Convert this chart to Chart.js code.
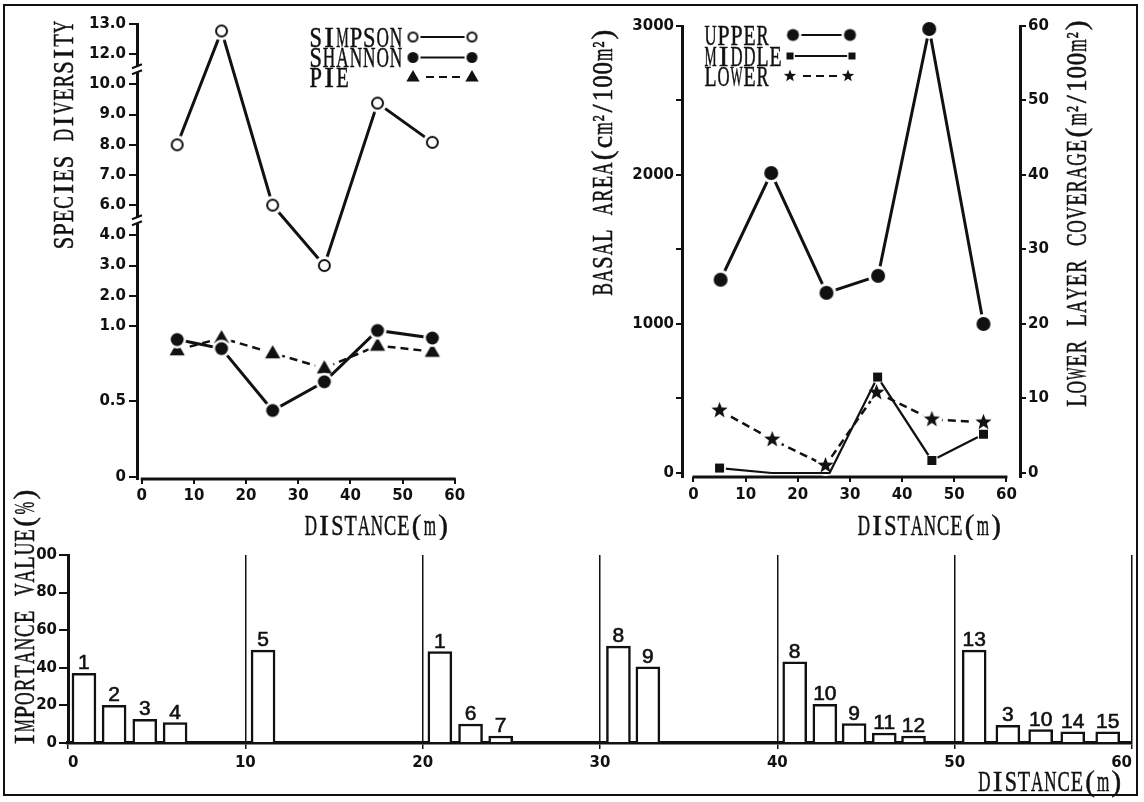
<!DOCTYPE html>
<html>
<head>
<meta charset="utf-8">
<script src="https://cdn.jsdelivr.net/npm/chart.js@4.4.1/dist/chart.umd.min.js"></script>
<style>
  html, body { margin: 0; padding: 0; background: #fff; }
  #page { position: relative; width: 1144px; height: 802px; overflow: hidden; background: #fff; }
  #frame { position: absolute; left: 3px; top: 4px; width: 1135px; height: 792px; border: 2px solid #111; box-sizing: border-box; }
  canvas { position: absolute; display: block; }
</style>
</head>
<body>
<div id="page">
  <div id="frame"></div>
  <canvas id="cDiv" width="520" height="540" style="left:0px;top:0px"></canvas>
  <canvas id="cBasal" width="584" height="540" style="left:560px;top:0px"></canvas>
  <canvas id="cIV" width="1144" height="322" style="left:0px;top:480px"></canvas>
</div>
<script>
// ================= DATA =================
const distanceTicks = [0, 10, 20, 30, 40, 50, 60];

// Species diversity (top-left)
const diversityDistance = [6.8, 15.3, 25.1, 35.0, 45.2, 55.7];
const simpsonIndex = [8.0, 12.77, 6.0, 3.0, 9.38, 8.08];
const shannonIndex = [0.91, 0.85, 0.44, 0.63, 0.97, 0.92];
const pieIndex = [0.84, 0.92, 0.82, 0.72, 0.87, 0.83];
const diversityTicks = [0, 0.5, 1, 2, 3, 4, 6, 7, 8, 9, 10, 12, 13];
const diversityTickLabels = ['0', '0.5', '1.0', '2.0', '3.0', '4.0', '6.0', '7.0', '8.0', '9.0', '10.0', '12.0', '13.0'];

// Basal area / coverage (top-right)
const upperDistance = [5.2, 14.9, 25.5, 35.4, 45.2, 55.6];
const upperBasalArea = [1297, 2013, 1209, 1323, 2980, 1000];
const middleDistance = [5.0, 15.0, 26.1, 35.3, 45.7, 55.6];
const middleBasalArea = [33, 0, 0, 644, 84, 260];
const lowerDistance = [5.0, 15.1, 25.3, 35.1, 45.7, 55.6];
const lowerCoverage = [8.4, 4.5, 1.0, 10.8, 7.2, 6.8];
const basalTicks = [0, 500, 1000, 1500, 2000, 2500, 3000];
const basalTickLabels = ['0', '', '1000', '', '2000', '', '3000'];
const coverageTicks = [0, 10, 20, 30, 40, 50, 60];
const coverageTickLabels = ['0', '10', '20', '30', '40', '50', '60'];

// Importance value (bottom)
const ivDistance = [0.9, 2.6, 4.33, 6.04, 11.0, 20.97, 22.7, 24.4, 31.04, 32.7, 40.98, 42.68, 44.33, 46.03, 47.68, 51.1, 53.0, 54.85, 56.66, 58.63];
const ivValue = [37, 20, 12.6, 10.8, 49.4, 48.6, 10.1, 3.7, 51.5, 40.5, 43.2, 20.6, 10.3, 5.3, 3.7, 49.4, 9.4, 7.1, 5.9, 5.9];
const ivSpecies = ['1', '2', '3', '4', '5', '1', '6', '7', '8', '9', '8', '10', '9', '11', '12', '13', '3', '10', '14', '15'];
const ivTicks = [0, 20, 40, 60, 80, 100];
const ivTickLabels = ['0', '20', '40', '60', '80', '00'];

// ================= HELPERS =================
const INK = '#111';
const SERIF = "'Liberation Serif', 'DejaVu Serif', serif";
const TICKFONT = { family: "'DejaVu Sans', sans-serif", size: 15, weight: 'bold' };

// broken diversity axis: 0-1 stretched, then one step per tick
function divPos(v) {
  if (v <= 1) return v * 5;
  if (v <= 4) return 5 + (v - 1);
  if (v <= 10) return 9 + (v - 6);
  return 14 + (v - 12);
}

// monospaced typewriter-like text
function monoText(ctx, text, x, y, opt) {
  const cell = opt.cell || 13.4;
  const size = opt.size || 29;
  const chars = Array.from(text);
  const widths = chars.map(ch => (ch === '\u00B2' ? cell * 0.5 : cell));
  const total = widths.reduce((a, b) => a + b, 0);
  ctx.save();
  ctx.translate(x, y);
  if (opt.rot) ctx.rotate(opt.rot);
  ctx.font = size + 'px ' + SERIF;
  ctx.fillStyle = INK;
  ctx.strokeStyle = INK;
  ctx.lineWidth = 0.5;
  ctx.textAlign = 'center';
  ctx.textBaseline = 'alphabetic';
  const capH = size * 0.662;
  let cx = opt.align === 'center' ? -total / 2 : (opt.align === 'right' ? -total : 0);
  chars.forEach((ch, i) => {
    const w = widths[i];
    if (ch !== ' ') {
      const mw = ctx.measureText(ch).width || 1;
      const sx = Math.min(1.0, (w * 0.93) / mw);
      ctx.save();
      ctx.translate(cx + w / 2, capH / 2);
      ctx.scale(sx, 1);
      ctx.fillText(ch, 0, 0);
      ctx.strokeText(ch, 0, 0);
      ctx.restore();
    }
    cx += w;
  });
  ctx.restore();
}

function makeMarker(kind, r, halo) {
  const s = Math.ceil(2 * (r + halo) + 4);
  const c = document.createElement('canvas');
  c.width = s; c.height = s;
  const g = c.getContext('2d');
  const m = s / 2;
  if (halo > 0) {
    g.fillStyle = '#fff';
    g.beginPath(); g.arc(m, m, r + halo, 0, 2 * Math.PI); g.fill();
  }
  g.fillStyle = INK; g.strokeStyle = INK;
  if (kind === 'open') {
    g.lineWidth = 2; g.fillStyle = '#fff';
    g.beginPath(); g.arc(m, m, r - 1, 0, 2 * Math.PI); g.fill(); g.stroke();
  } else if (kind === 'dot') {
    g.beginPath(); g.arc(m, m, r, 0, 2 * Math.PI); g.fill();
  } else if (kind === 'triangle') {
    g.beginPath(); g.moveTo(m, m - r); g.lineTo(m + r * 0.95, m + r * 0.65); g.lineTo(m - r * 0.95, m + r * 0.65); g.closePath(); g.fill();
  } else if (kind === 'square') {
    g.fillRect(m - r, m - r, 2 * r, 2 * r);
  } else if (kind === 'star') {
    g.beginPath();
    for (let k = 0; k < 10; k++) {
      const a = -Math.PI / 2 + k * Math.PI / 5;
      const rr = k % 2 === 0 ? r : r * 0.42;
      g.lineTo(m + rr * Math.cos(a), m + rr * Math.sin(a));
    }
    g.closePath(); g.fill();
  }
  return c;
}

function fixedTicks(values) {
  return scale => { scale.ticks = values.map(v => ({ value: v })); };
}

function titlesPlugin(id, titles) {
  return {
    id,
    afterDraw(chart) {
      const ctx = chart.ctx;
      titles.forEach(t => monoText(ctx, t.text, t.x, t.y, t));
    }
  };
}

function legendPlugin(id, layout) {
  return {
    id,
    afterDraw(chart) {
      const ctx = chart.ctx;
      chart.data.datasets.forEach((ds, i) => {
        const y = layout.ys[i];
        monoText(ctx, ds.label, layout.textX, y, { cell: layout.cell, size: layout.size });
        ctx.save();
        ctx.strokeStyle = INK;
        ctx.lineWidth = layout.lineWidth;
        ctx.setLineDash(ds.borderDash || []);
        ctx.beginPath();
        ctx.moveTo(layout.x1[i], y);
        ctx.lineTo(layout.x2[i], y);
        ctx.stroke();
        ctx.restore();
        const img = ds.legendMarker;
        ctx.drawImage(img, layout.x1[i] - img.width / 2, y - img.height / 2);
        ctx.drawImage(img, layout.x2[i] - img.width / 2, y - img.height / 2);
      });
    }
  };
}

function xAxisLinePlugin(id, from, to) {
  return {
    id,
    beforeDatasetsDraw(chart) {
      const ctx = chart.ctx;
      const xs = chart.scales.x;
      const y = chart.chartArea.bottom;
      ctx.save();
      ctx.strokeStyle = INK;
      ctx.lineWidth = 3;
      ctx.beginPath();
      ctx.moveTo(xs.getPixelForValue(from) - 1, y);
      ctx.lineTo(xs.getPixelForValue(to) + 1, y);
      ctx.stroke();
      ctx.restore();
    }
  };
}

const axisBreaks = {
  id: 'axisBreaks',
  afterDraw(chart) {
    const ctx = chart.ctx;
    const ys = chart.scales.y;
    const x = chart.chartArea.left;
    [divPos(10) + 0.5, divPos(4) + 0.5].forEach(p => {
      const y = ys.getPixelForValue(p);
      ctx.save();
      ctx.fillStyle = '#fff';
      ctx.fillRect(x - 3, y - 3, 6, 6);
      ctx.strokeStyle = INK;
      ctx.lineWidth = 2;
      ctx.beginPath();
      ctx.moveTo(x - 5, y - 1); ctx.lineTo(x + 5, y - 5);
      ctx.moveTo(x - 5, y + 5); ctx.lineTo(x + 5, y + 1);
      ctx.stroke();
      ctx.restore();
    });
  }
};

const baseOpts = {
  responsive: false,
  animation: false,
  devicePixelRatio: 1,
  events: [],
  plugins: { legend: { display: false }, tooltip: { enabled: false } }
};

function tickOpts(extra) {
  return Object.assign({ font: TICKFONT, color: INK, maxRotation: 0, minRotation: 0, autoSkip: false }, extra);
}

// ================= CHART 1: species diversity =================
new Chart(document.getElementById('cDiv'), {
  type: 'line',
  data: {
    datasets: [
      {
        label: 'SIMPSON',
        data: diversityDistance.map((d, i) => ({ x: d, y: divPos(simpsonIndex[i]) })),
        borderColor: INK, borderWidth: 3, tension: 0, clip: false,
        pointStyle: makeMarker('open', 6.5, 3), pointRadius: 6,
        legendMarker: makeMarker('open', 5.5, 2)
      },
      {
        label: 'SHANNON',
        data: diversityDistance.map((d, i) => ({ x: d, y: divPos(shannonIndex[i]) })),
        borderColor: INK, borderWidth: 3, tension: 0, clip: false,
        pointStyle: makeMarker('dot', 6.5, 2.5), pointRadius: 6,
        legendMarker: makeMarker('dot', 5.5, 2)
      },
      {
        label: 'PIE',
        data: diversityDistance.map((d, i) => ({ x: d, y: divPos(pieIndex[i]) })),
        borderColor: INK, borderWidth: 2.5, borderDash: [8, 5], tension: 0, clip: false,
        pointStyle: makeMarker('triangle', 8, 2), pointRadius: 6,
        legendMarker: makeMarker('triangle', 7, 2)
      }
    ]
  },
  options: Object.assign({}, baseOpts, {
    layout: { padding: { top: 24, right: 60, left: 0, bottom: 0 } },
    scales: {
      x: {
        type: 'linear', min: -0.9, max: 61,
        afterBuildTicks: fixedTicks(distanceTicks),
        afterFit: s => { s.height = 61; },
        grid: { drawOnChartArea: false, drawTicks: true, tickLength: 5, color: INK, lineWidth: 2 },
        border: { display: false },
        ticks: tickOpts({ padding: 3 })
      },
      y: {
        type: 'linear', min: -0.07, max: 15,
        afterBuildTicks: s => { s.ticks = diversityTicks.map(v => ({ value: divPos(v) })); },
        afterFit: s => { s.width = 137; },
        grid: { drawOnChartArea: false, drawTicks: true, tickLength: 8, color: INK, lineWidth: 2 },
        border: { display: true, color: INK, width: 3 },
        ticks: tickOpts({ padding: 3, callback: (v, i) => diversityTickLabels[i] })
      }
    }
  }),
  plugins: [
    xAxisLinePlugin('xline1', 0, 60),
    axisBreaks,
    legendPlugin('legend1', { textX: 309, x1: [413, 413, 413], x2: [472, 472, 472], ys: [37, 57.5, 77], cell: 13.4, size: 29, lineWidth: 2.2 }),
    titlesPlugin('titles1', [
      { text: 'SPECIES DIVERSITY', x: 63, y: 135, rot: -Math.PI / 2, align: 'center', cell: 13.5, size: 29 },
      { text: 'DISTANCE(m)', x: 377, y: 525, align: 'center', cell: 13.2, size: 29 }
    ])
  ]
});

// ================= CHART 2: basal area / coverage =================
new Chart(document.getElementById('cBasal'), {
  type: 'line',
  data: {
    datasets: [
      {
        label: 'UPPER',
        data: upperDistance.map((d, i) => ({ x: d, y: upperBasalArea[i] })),
        yAxisID: 'y', borderColor: INK, borderWidth: 3, tension: 0, clip: false,
        pointStyle: makeMarker('dot', 7, 3), pointRadius: 6,
        legendMarker: makeMarker('dot', 6, 2.5)
      },
      {
        label: 'MIDDLE',
        data: middleDistance.map((d, i) => ({ x: d, y: middleBasalArea[i] })),
        yAxisID: 'y', borderColor: INK, borderWidth: 2.2, tension: 0, clip: false,
        pointStyle: makeMarker('square', 4.5, 2),
        pointRadius: ctx => (ctx.raw && ctx.raw.y === 0 ? 0 : 5),
        legendMarker: makeMarker('square', 3.5, 1.5)
      },
      {
        label: 'LOWER',
        data: lowerDistance.map((d, i) => ({ x: d, y: lowerCoverage[i] })),
        yAxisID: 'y1', borderColor: INK, borderWidth: 2.5, borderDash: [8, 5], tension: 0, clip: false,
        pointStyle: makeMarker('star', 8.5, 2), pointRadius: 6,
        legendMarker: makeMarker('star', 6.5, 1.5)
      }
    ]
  },
  options: Object.assign({}, baseOpts, {
    layout: { padding: { top: 26, right: 0, left: 0, bottom: 0 } },
    scales: {
      x: {
        type: 'linear', min: -2.2, max: 62.6,
        afterBuildTicks: fixedTicks(distanceTicks),
        afterFit: s => { s.height = 63; },
        grid: { drawOnChartArea: false, drawTicks: true, tickLength: 5, color: INK, lineWidth: 2 },
        border: { display: false },
        ticks: tickOpts({ padding: 4 })
      },
      y: {
        type: 'linear', position: 'left', min: -27, max: 3000,
        afterBuildTicks: fixedTicks(basalTicks),
        afterFit: s => { s.width = 122; },
        grid: { drawOnChartArea: false, drawTicks: true, tickLength: 6, color: INK, lineWidth: 2 },
        border: { display: true, color: INK, width: 3 },
        ticks: tickOpts({ padding: 2, callback: (v, i) => basalTickLabels[i] })
      },
      y1: {
        type: 'linear', position: 'right', min: -0.54, max: 60,
        afterBuildTicks: fixedTicks(coverageTicks),
        afterFit: s => { s.width = 124; },
        grid: { drawOnChartArea: false, drawTicks: true, tickLength: 6, color: INK, lineWidth: 2 },
        border: { display: true, color: INK, width: 3 },
        ticks: tickOpts({ padding: 2, callback: (v, i) => coverageTickLabels[i] })
      }
    }
  }),
  plugins: [
    xAxisLinePlugin('xline2', 0, 60),
    legendPlugin('legend2', { textX: 144, x1: [233, 230, 230], x2: [290, 292, 288], ys: [35, 56, 76], cell: 13, size: 29, lineWidth: 2.2 }),
    titlesPlugin('titles2', [
      { text: 'BASAL AREA(cm\u00B2/100m\u00B2)', x: 42, y: 162, rot: -Math.PI / 2, align: 'center', cell: 13.4, size: 29 },
      { text: 'LOWER LAYER COVERAGE(m\u00B2/100m\u00B2)', x: 516, y: 213, rot: -Math.PI / 2, align: 'center', cell: 13.4, size: 29 },
      { text: 'DISTANCE(m)', x: 370, y: 525, align: 'center', cell: 13.2, size: 29 }
    ])
  ]
});

// ================= CHART 3: importance value =================
const barLabels = {
  id: 'barLabels',
  afterDatasetsDraw(chart) {
    const ctx = chart.ctx;
    const meta = chart.getDatasetMeta(0);
    ctx.save();
    ctx.font = "21px 'Liberation Sans', 'DejaVu Sans', sans-serif";
    ctx.fillStyle = INK;
    ctx.strokeStyle = INK;
    ctx.lineWidth = 0.6;
    ctx.textAlign = 'center';
    ctx.textBaseline = 'alphabetic';
    meta.data.forEach((el, i) => {
      ctx.fillText(ivSpecies[i], el.x, el.y - 4);
      ctx.strokeText(ivSpecies[i], el.x, el.y - 4);
    });
    ctx.restore();
  }
};

new Chart(document.getElementById('cIV'), {
  type: 'bar',
  data: {
    datasets: [{
      label: 'IMPORTANCE VALUE',
      data: ivDistance.map((d, i) => ({ x: d, y: ivValue[i] })),
      backgroundColor: '#fff', borderColor: INK, borderWidth: 2.5, borderSkipped: 'bottom',
      barThickness: 24
    }]
  },
  options: Object.assign({}, baseOpts, {
    layout: { padding: { top: 75, right: 12, left: 0, bottom: 0 } },
    scales: {
      x: {
        type: 'linear', min: 0, max: 60, offset: false,
        afterBuildTicks: fixedTicks(distanceTicks),
        afterFit: s => { s.height = 59; },
        grid: { offset: false, drawOnChartArea: true, drawTicks: true, tickLength: 6, color: INK, lineWidth: 1.5 },
        border: { display: true, color: INK, width: 3.5 },
        ticks: tickOpts({ padding: 5, align: 'inner' })
      },
      y: {
        type: 'linear', min: 0, max: 100,
        afterBuildTicks: fixedTicks(ivTicks),
        afterFit: s => { s.width = 68; },
        grid: { drawOnChartArea: false, drawTicks: true, tickLength: 9, color: INK, lineWidth: 2 },
        border: { display: true, color: INK, width: 3 },
        ticks: tickOpts({ padding: 2, callback: (v, i) => ivTickLabels[i] })
      }
    }
  }),
  plugins: [
    barLabels,
    titlesPlugin('titles3', [
      { text: 'IMPORTANCE VALUE(%)', x: 24, y: 137, rot: -Math.PI / 2, align: 'center', cell: 13.6, size: 29 },
      { text: 'DISTANCE(m)', x: 1123, y: 301, align: 'right', cell: 13.2, size: 29 }
    ])
  ]
});
</script>
</body>
</html>
